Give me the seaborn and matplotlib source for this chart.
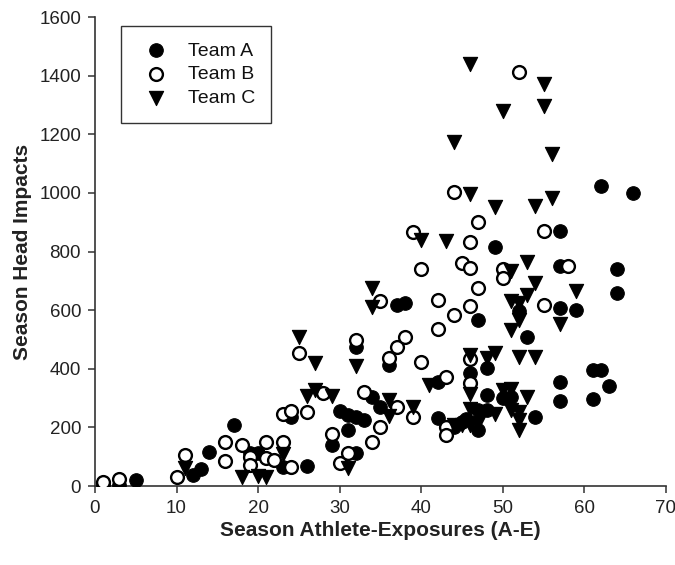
import matplotlib
matplotlib.use("Agg")
import matplotlib.pyplot as plt
import seaborn as sns
import pandas as pd

# ---- data ----
team_a_x = [1, 3, 5, 12, 13, 14, 17, 19, 20, 23, 24, 26, 29, 30, 31, 31, 32, 32, 32, 33,
            34, 35, 36, 37, 38, 42, 42, 44, 45, 45.5, 46, 47, 47, 47, 48, 48, 48, 49, 50, 51,
            52, 53, 54, 57, 57, 57, 59, 57, 57, 61, 62, 63, 61, 64, 64, 62, 66]
team_a_y = [3, 3, 22, 38, 58, 115, 208, 112, 112, 65, 235, 68, 140, 255, 243, 190, 235, 114, 475, 226,
            305, 271, 412, 618, 623, 355, 231, 200, 220, 228, 387, 567, 191, 260, 260, 311, 402, 815, 300, 305,
            596, 508, 235, 870, 750, 607, 602, 355, 290, 397, 397, 340, 296, 740, 659, 1023, 998]

team_b_x = [1, 3, 10, 11, 16, 16, 18, 19, 19, 21, 21, 22, 23, 23, 24, 24, 25, 26, 28, 29,
            30, 31, 32, 33, 34, 35, 35, 36, 37, 37, 38, 39, 39, 40, 40, 42, 42, 43, 43, 43,
            44, 44, 45, 46, 46, 46, 46, 46, 47, 47, 50, 50, 52, 55, 55, 58]
team_b_y = [15, 25, 32, 105, 150, 85, 140, 100, 70, 150, 95, 90, 245, 150, 257, 66, 453, 252, 318, 178,
            80, 114, 498, 320, 149, 632, 203, 438, 474, 271, 507, 866, 237, 741, 423, 636, 536, 373, 203, 174,
            1003, 582, 760, 833, 745, 613, 435, 351, 902, 676, 740, 710, 1413, 870, 618, 750]

team_c_x = [11, 18, 20, 21, 23, 25, 26, 27, 27, 29, 31, 32, 34, 34, 36, 36, 39, 40, 41, 43,
            44, 44, 45, 46, 46, 46, 46, 46, 46, 47, 48, 49, 49, 49, 50, 50, 51, 51, 51, 51,
            51, 52, 52, 52, 52, 52, 52, 53, 53, 53, 54, 54, 54, 55, 55, 56, 56, 57, 59]
team_c_y = [60, 30, 35, 30, 110, 507, 308, 328, 420, 308, 60, 408, 676, 610, 294, 240, 270, 840, 343, 835,
            1172, 208, 208, 208, 1440, 995, 448, 314, 262, 214, 437, 454, 952, 245, 1278, 328, 733, 630, 533, 330,
            258, 625, 567, 440, 252, 226, 191, 763, 653, 305, 955, 693, 440, 1370, 1295, 1132, 983, 552, 665]

teams = ["Team A", "Team B", "Team C"]
x_ticks = [0, 10, 20, 30, 40, 50, 60, 70]
y_ticks = [0, 200, 400, 600, 800, 1000, 1200, 1400, 1600]

df = pd.concat([
    pd.DataFrame({"x": team_a_x, "y": team_a_y, "team": teams[0]}),
    pd.DataFrame({"x": team_b_x, "y": team_b_y, "team": teams[1]}),
    pd.DataFrame({"x": team_c_x, "y": team_c_y, "team": teams[2]}),
], ignore_index=True)

sns.set_style("ticks")
plt.rcParams["font.family"] = ["Liberation Sans", "DejaVu Sans"]

fig = plt.figure(figsize=(6.75, 5.65), dpi=100)
ax = fig.add_axes([0.1407, 0.1398, 0.8459, 0.8301])

styles = {
    "Team A": dict(marker="o", color="black", edgecolor="black", linewidth=0.8, s=95),
    "Team B": dict(marker="o", color="white", edgecolor="black", linewidth=1.7, s=85),
    "Team C": dict(marker="v", color="black", edgecolor="black", linewidth=0.8, s=105),
}
for t in teams:
    sub = df[df["team"] == t]
    sns.scatterplot(data=sub, x="x", y="y", ax=ax, label=t, zorder=3, **styles[t])

ax.set_xlim(0, 70)
ax.set_ylim(0, 1600)
ax.set_xticks(x_ticks)
ax.set_yticks(y_ticks)
ax.set_xticklabels([str(v) for v in x_ticks])
ax.set_yticklabels([str(v) for v in y_ticks])
for side in ["top", "right"]:
    ax.spines[side].set_visible(False)
for side in ["left", "bottom"]:
    ax.spines[side].set_color("#333333")
    ax.spines[side].set_linewidth(1.2)
ax.tick_params(axis="both", direction="out", length=5, width=1.1, color="#333333",
               labelsize=13.5, labelcolor="#222222", pad=5)

ax.set_xlabel("Season Athlete-Exposures (A-E)", fontsize=15, fontweight="bold",
              color="#222222", labelpad=3)
ax.set_ylabel("Season Head Impacts", fontsize=15, fontweight="bold",
              color="#222222", labelpad=5)

leg = ax.legend(loc="upper left", bbox_to_anchor=(0.045, 0.98), frameon=True,
                fancybox=False, edgecolor="black", fontsize=14, borderpad=0.8,
                handletextpad=0.65, labelspacing=0.32, borderaxespad=0, handlelength=2.0)
leg.get_frame().set_linewidth(1.0)
for txt in leg.get_texts():
    txt.set_color("#111111")

fig.savefig("out.png", dpi=100)
